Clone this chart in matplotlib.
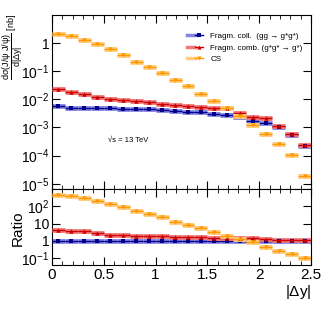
import numpy as np
import matplotlib
matplotlib.use("Agg")
import matplotlib.pyplot as plt
from matplotlib.lines import Line2D
from matplotlib.legend_handler import HandlerTuple
from matplotlib.ticker import LogLocator, NullFormatter, MultipleLocator, FixedLocator, FixedFormatter

plt.rcParams['font.family'] = ['Liberation Sans', 'DejaVu Sans']
plt.rcParams['mathtext.fontset'] = 'custom'
plt.rcParams['mathtext.rm'] = 'Liberation Sans'
plt.rcParams['mathtext.it'] = 'Liberation Sans:italic'

# ---- data ----
bin_edges = np.linspace(0, 2.5, 21)
dy_centers = 0.5 * (bin_edges[:-1] + bin_edges[1:])

frag_coll = [0.0056, 0.0051, 0.0050, 0.0049, 0.0049, 0.0047, 0.0047, 0.0046, 0.0041, 0.0040,
             0.0036, 0.0035, 0.0031, 0.0027, 0.0023, 0.0017, 0.0015, 0.00102, 0.00055, 0.00022]
frag_comb = [0.023, 0.0186, 0.016, 0.0123, 0.0107, 0.0094, 0.0088, 0.0082, 0.0070, 0.0063,
             0.0059, 0.0055, 0.0049, 0.0048, 0.0032, 0.0023, 0.0021, 0.0011, 0.0006, 0.00024]
cs = [2.1, 1.77, 1.31, 0.95, 0.60, 0.37, 0.22, 0.145, 0.085, 0.048,
      0.029, 0.016, 0.0091, 0.0048, 0.0026, 0.00126, 0.00059, 0.00025, 0.000105, 0.000019]

ratio_coll = [1.0] * 20
ratio_comb = [4.3, 3.8, 3.6, 2.7, 2.3, 2.1, 1.9, 1.85, 1.8, 1.7,
              1.65, 1.6, 1.55, 1.55, 1.45, 1.4, 1.35, 1.1, 1.1, 1.15]
ratio_cs = [425, 385, 295, 210, 141, 89, 56, 37, 23, 13,
            8.8, 5.2, 3.2, 1.9, 1.25, 0.81, 0.42, 0.27, 0.17, 0.097]

labels = ["Fragm. coll.  (gg \u2192 g*g*)", "Fragm. comb. (g*g* \u2192 g*)", "CS"]
dark = ['#00008c', '#cc0000', '#ff9900']
light = ['#8585e0', '#f07a7a', '#ffcc80']
markers = ['s', '^', 'v']

W, H = 327, 316
fig = plt.figure(figsize=(W / 100, H / 100), dpi=100)
ax1 = fig.add_axes([52 / W, 1 - 189 / H, 259 / W, 174 / H])
ax2 = fig.add_axes([52 / W, 1 - 265 / H, 259 / W, 76 / H])

hw = 0.0625
handles = []
for ax, series in ((ax1, [frag_coll, frag_comb, cs]), (ax2, [ratio_coll, ratio_comb, ratio_cs])):
    for i, vals in enumerate(series):
        vals = np.array(vals)
        ax.hlines(vals, dy_centers - hw, dy_centers + hw, colors=light[i], lw=3.5, zorder=2 + i)
        ax.errorbar(dy_centers, vals, xerr=hw, fmt=markers[i], color=dark[i], ms=3.2,
                    elinewidth=1.0, capsize=0, mew=0, zorder=3 + i)
        if ax is ax1:
            handles.append((Line2D([], [], color=light[i], lw=2.5),
                            Line2D([], [], color=dark[i], lw=1.0, marker=markers[i], ms=3.0, mew=0)))

for ax in (ax1, ax2):
    ax.set_xlim(0, 2.5)
    ax.set_yscale('log')
    ax.xaxis.set_major_locator(MultipleLocator(0.5))
    ax.xaxis.set_minor_locator(MultipleLocator(0.1))
    ax.tick_params(which='both', direction='in', top=True, right=True, pad=2)
    ax.tick_params(axis='x', labelsize=11)
    ax.tick_params(axis='y', labelsize=10)
    ax.tick_params(which='major', length=6, width=0.8)
    ax.tick_params(which='minor', length=3, width=0.6)
    ax.yaxis.set_minor_locator(LogLocator(base=10, subs=np.arange(2, 10)))
    ax.yaxis.set_minor_formatter(NullFormatter())
    for s in ax.spines.values():
        s.set_linewidth(0.8)

ax1.set_ylim(6.5e-6, 10)
ax1.tick_params(labelbottom=False)
ax1.yaxis.set_major_locator(FixedLocator([1e-5, 1e-4, 1e-3, 1e-2, 1e-1, 1]))
ax1.yaxis.set_major_formatter(FixedFormatter([r'$10^{-5}$', r'$10^{-4}$', r'$10^{-3}$',
                                               r'$10^{-2}$', r'$10^{-1}$', '1']))

ax2.set_ylim(0.04, 1000)
ax2.yaxis.set_major_locator(FixedLocator([0.1, 1, 10, 100]))
ax2.yaxis.set_major_formatter(FixedFormatter([r'$10^{-1}$', '1', '10', r'$10^{2}$']))
ax2.set_xticks([0, 0.5, 1, 1.5, 2, 2.5])
ax2.set_xticklabels(['0', '0.5', '1', '1.5', '2', '2.5'])

ax1.legend(handles, labels, handler_map={tuple: HandlerTuple(ndivide=None, pad=0)},
           loc='center left', bbox_to_anchor=(0.496, 0.812), frameon=False, fontsize=5.8,
           handlelength=2.0, labelspacing=0.5, handletextpad=0.9, borderpad=0.3)

fig.text(108 / W, 1 - 140 / H, '\u221As = 13 TeV', fontsize=5.5, ha='left', va='center')

fig.text(12.5 / W, 1 - 14 / H,
         r'$\dfrac{\mathrm{d\sigma(J/\psi\ J/\psi)}}{\mathrm{d|\Delta y|}}$ [nb]',
         rotation=90, ha='center', va='top', fontsize=6.5)
fig.text(18 / W, 1 - 228 / H, 'Ratio', rotation=90, ha='center', va='center', fontsize=11)
fig.text(311 / W, 1 - 292 / H, r'|$\Delta$y|', ha='right', va='center', fontsize=11)

fig.savefig('out.png', dpi=100)
